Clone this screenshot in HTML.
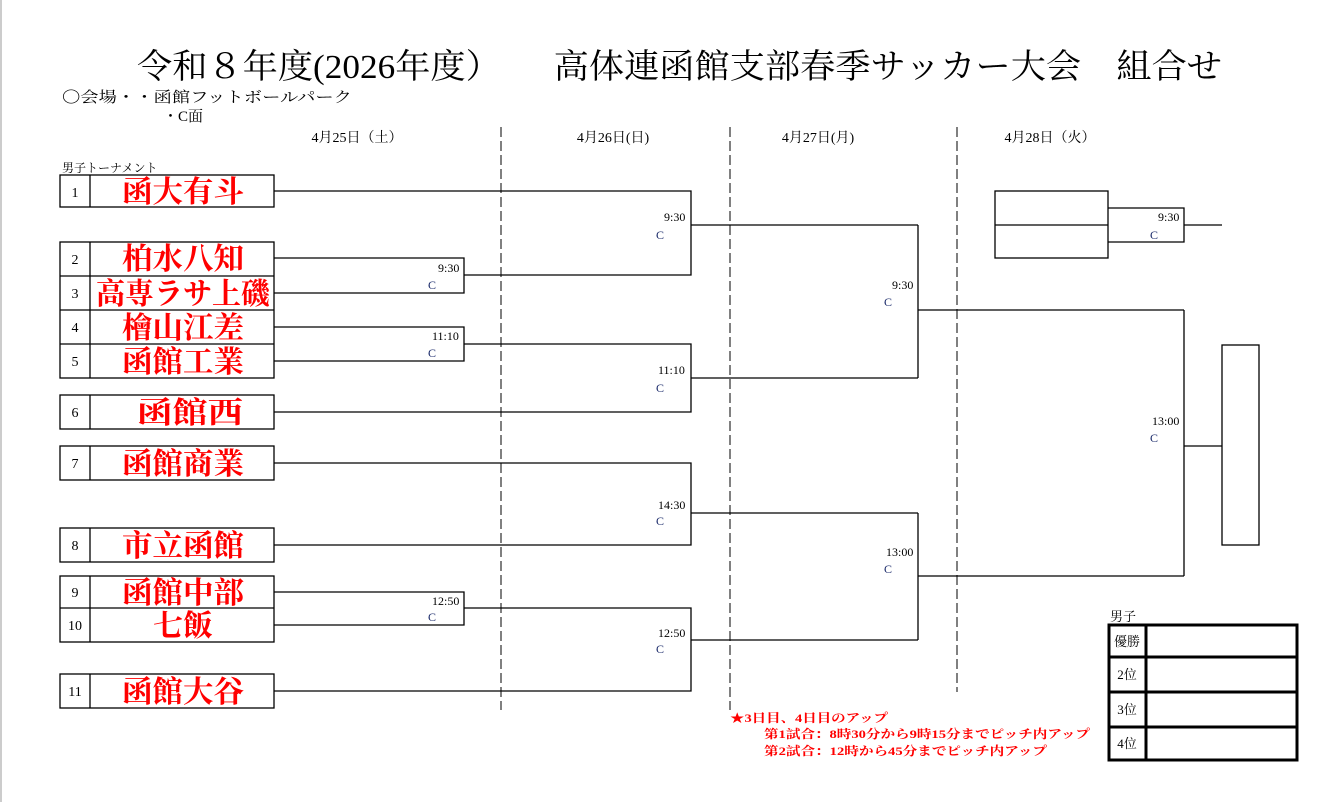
<!DOCTYPE html>
<html><head><meta charset="utf-8"><style>
html,body{margin:0;padding:0;background:#fff;}
svg{display:block;font-family:"Liberation Serif","Noto Serif CJK SC","Noto Serif CJK JP",serif;}
</style></head><body>
<svg width="1341" height="802" viewBox="0 0 1341 802" xmlns="http://www.w3.org/2000/svg">
<rect x="0" y="0" width="2" height="802" fill="#ccc"/>
<text x="137" y="78" font-size="34" textLength="1085" lengthAdjust="spacingAndGlyphs">令和８年度(2026年度）　　高体連函館支部春季サッカー大会　組合せ</text>
<text x="62" y="102" font-size="15" textLength="290" lengthAdjust="spacingAndGlyphs">〇会場・・函館フットボールパーク</text>
<text x="163" y="121" font-size="15">・C面</text>
<g font-size="14" text-anchor="middle">
<text x="357" y="142">4月25日（土）</text>
<text x="613" y="142">4月26日(日)</text>
<text x="818" y="142">4月27日(月)</text>
<text x="1050" y="142">4月28日（火）</text>
</g>
<g stroke="#000" stroke-dasharray="10,4" stroke-width="1">
<line x1="501" y1="127" x2="501" y2="710"/>
<line x1="730" y1="127" x2="730" y2="710"/>
<line x1="957" y1="127" x2="957" y2="692"/>
</g>
<text x="62" y="172" font-size="12">男子トーナメント</text>
<g stroke="#000" stroke-width="1.3" fill="none">
<rect x="60" y="175" width="214" height="32"/><line x1="90" y1="175" x2="90" y2="207"/>
<rect x="60" y="242" width="214" height="136"/><line x1="90" y1="242" x2="90" y2="378"/>
<line x1="60" y1="276" x2="274" y2="276"/><line x1="60" y1="310" x2="274" y2="310"/><line x1="60" y1="344" x2="274" y2="344"/>
<rect x="60" y="395" width="214" height="34"/><line x1="90" y1="395" x2="90" y2="429"/>
<rect x="60" y="446" width="214" height="34"/><line x1="90" y1="446" x2="90" y2="480"/>
<rect x="60" y="528" width="214" height="34"/><line x1="90" y1="528" x2="90" y2="562"/>
<rect x="60" y="576" width="214" height="66"/><line x1="90" y1="576" x2="90" y2="642"/><line x1="60" y1="608" x2="274" y2="608"/>
<rect x="60" y="674" width="214" height="34"/><line x1="90" y1="674" x2="90" y2="708"/>
<polyline points="274,191 691,191 691,275 464,275"/>
<polyline points="274,258 464,258 464,293 274,293"/>
<line x1="691" y1="225" x2="918" y2="225"/>
<polyline points="274,327 464,327 464,361 274,361"/>
<polyline points="464,344 691,344 691,412 274,412"/>
<line x1="691" y1="378" x2="918" y2="378"/>
<polyline points="918,225 918,378"/>
<line x1="918" y1="310" x2="1184" y2="310"/>
<polyline points="274,463 691,463 691,545 274,545"/>
<line x1="691" y1="513" x2="918" y2="513"/>
<polyline points="274,592 464,592 464,625 274,625"/>
<polyline points="464,608 691,608 691,691 274,691"/>
<line x1="691" y1="640" x2="918" y2="640"/>
<polyline points="918,513 918,640"/>
<line x1="918" y1="576" x2="1184" y2="576"/>
<polyline points="1184,310 1184,576"/>
<line x1="1184" y1="446" x2="1222" y2="446"/>
<rect x="1222" y="345" width="37" height="200"/>
<rect x="995" y="191" width="113" height="67"/><line x1="995" y1="225" x2="1108" y2="225"/>
<polyline points="1108,208 1184,208 1184,242 1108,242"/>
<line x1="1184" y1="225" x2="1222" y2="225"/>
</g>
<g font-size="14" text-anchor="middle">
<text x="75" y="197">1</text><text x="75" y="264">2</text><text x="75" y="298">3</text><text x="75" y="332">4</text><text x="75" y="366">5</text>
<text x="75" y="417">6</text><text x="75" y="468">7</text><text x="75" y="550">8</text><text x="75" y="597">9</text><text x="75" y="630">10</text><text x="75" y="696">11</text>
</g>
<g font-size="30" fill="#f00" text-anchor="middle" font-weight="bold">
<text x="183" y="202" textLength="122" lengthAdjust="spacingAndGlyphs">函大有斗</text>
<text x="183" y="269" textLength="122" lengthAdjust="spacingAndGlyphs">柏水八知</text>
<text x="183" y="304" textLength="174" lengthAdjust="spacingAndGlyphs">高専ラサ上磯</text>
<text x="183" y="338" textLength="122" lengthAdjust="spacingAndGlyphs">檜山江差</text>
<text x="183" y="372" textLength="122" lengthAdjust="spacingAndGlyphs">函館工業</text>
<text x="190" y="423" textLength="106" lengthAdjust="spacingAndGlyphs">函館西</text>
<text x="183" y="474" textLength="122" lengthAdjust="spacingAndGlyphs">函館商業</text>
<text x="183" y="556" textLength="122" lengthAdjust="spacingAndGlyphs">市立函館</text>
<text x="183" y="603" textLength="122" lengthAdjust="spacingAndGlyphs">函館中部</text>
<text x="183" y="636" textLength="60" lengthAdjust="spacingAndGlyphs">七飯</text>
<text x="183" y="702" textLength="122" lengthAdjust="spacingAndGlyphs">函館大谷</text>
</g>
<g font-size="12" fill="#000">
<text x="438" y="272">9:30</text><text x="428" y="289" fill="#1a2a6a">C</text>
<text x="432" y="340">11:10</text><text x="428" y="357" fill="#1a2a6a">C</text>
<text x="432" y="605">12:50</text><text x="428" y="621" fill="#1a2a6a">C</text>
<text x="664" y="221">9:30</text><text x="656" y="239" fill="#1a2a6a">C</text>
<text x="658" y="374">11:10</text><text x="656" y="392" fill="#1a2a6a">C</text>
<text x="658" y="509">14:30</text><text x="656" y="525" fill="#1a2a6a">C</text>
<text x="658" y="637">12:50</text><text x="656" y="653" fill="#1a2a6a">C</text>
<text x="892" y="289">9:30</text><text x="884" y="306" fill="#1a2a6a">C</text>
<text x="886" y="556">13:00</text><text x="884" y="573" fill="#1a2a6a">C</text>
<text x="1152" y="425">13:00</text><text x="1150" y="442" fill="#1a2a6a">C</text>
<text x="1158" y="221">9:30</text><text x="1150" y="239" fill="#1a2a6a">C</text>
</g>
<g font-size="12" fill="#f00" font-weight="bold">
<text x="730" y="722" textLength="158" lengthAdjust="spacingAndGlyphs">★3日目、4日目のアップ</text>
<text x="764" y="738" textLength="326" lengthAdjust="spacingAndGlyphs">第1試合：8時30分から9時15分までピッチ内アップ</text>
<text x="764" y="755" textLength="283" lengthAdjust="spacingAndGlyphs">第2試合：12時から45分までピッチ内アップ</text>
</g>
<text x="1110" y="621" font-size="13">男子</text>
<g stroke="#000" stroke-width="3" fill="none">
<rect x="1109" y="625" width="188" height="135"/>
<line x1="1146" y1="625" x2="1146" y2="760"/>
<line x1="1109" y1="657" x2="1297" y2="657"/>
<line x1="1109" y1="692" x2="1297" y2="692"/>
<line x1="1109" y1="727" x2="1297" y2="727"/>
</g>
<g font-size="13" text-anchor="middle">
<text x="1127" y="646">優勝</text><text x="1127" y="679">2位</text><text x="1127" y="714">3位</text><text x="1127" y="748">4位</text>
</g>
</svg>
</body></html>
